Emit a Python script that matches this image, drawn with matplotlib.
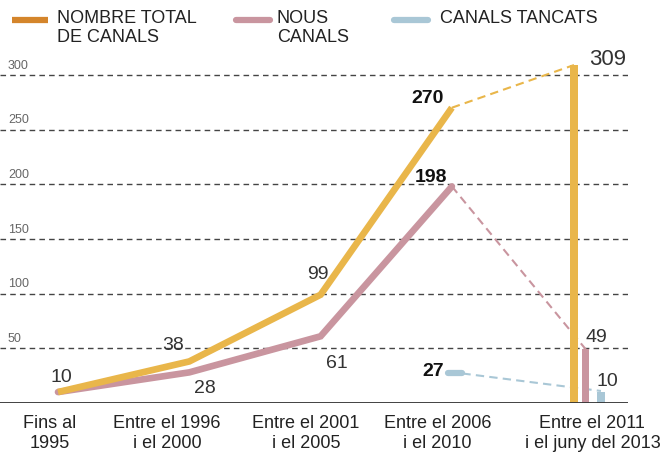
import matplotlib
matplotlib.use("Agg")
import matplotlib.pyplot as plt
from matplotlib.lines import Line2D
import matplotlib.transforms as mtransforms

plt.rcParams['font.family'] = ['Liberation Sans', 'DejaVu Sans']

categories = ["Fins al\n1995", "Entre el 1996\ni el 2000", "Entre el 2001\ni el 2005",
              "Entre el 2006\ni el 2010", "Entre el 2011\ni el juny del 2013"]
total = [10, 38, 99, 270, 309]
nous = [10, 28, 61, 198, 49]
tancats = [None, None, None, 27, 10]
yticks = [50, 100, 150, 200, 250, 300]

C_TOTAL = "#e9b64a"
C_TOTAL_LEG = "#d4852b"
C_NOUS = "#c9959f"
C_TANC = "#a9c7d6"
GRID = "#444444"

W, H = 661, 453
fig = plt.figure(figsize=(W / 100, H / 100), dpi=100)
U = 131.3  # px per category
ax_left, ax_right = 0 / W, 628 / W
ax_bottom = 1 - 403 / H
ax_top = 1 - 53 / H
ax = fig.add_axes([ax_left, ax_bottom, ax_right - ax_left, ax_top - ax_bottom])
ax.set_xlim(-58 / U, (628 - 58) / U)
ax.set_ylim(0, 320)
for s in ax.spines.values():
    s.set_visible(False)
ax.set_xticks([])
ax.set_yticks([])

# gridlines
bt = mtransforms.blended_transform_factory(ax.transAxes, ax.transData)
for t in yticks:
    ax.axhline(t, color=GRID, lw=1.0, ls=(0, (4, 3)), zorder=1)
    ax.text(8 / 628, t + 3, str(t), transform=bt, ha="left", va="bottom", fontsize=9, color="#666666")
ax.axhline(0, color="#333333", lw=1.3, zorder=5)

xs = list(range(len(categories)))
last = xs[-1]
lw = 4.8

# main lines (first four categories)
ax.plot(xs[:4], total[:4], color=C_TOTAL, lw=lw, solid_capstyle="butt", solid_joinstyle="miter", zorder=4)
ax.plot(xs[:4], nous[:4], color=C_NOUS, lw=lw, solid_capstyle="round", solid_joinstyle="miter", zorder=3)

# dashed connectors to last category
off_total, off_nous, off_tanc = -0.07, 0.02, 0.135
ax.plot([xs[3], last + off_total], [total[3], total[4]], color=C_TOTAL, lw=1.5, ls=(0, (4, 2.5)), zorder=3)
ax.plot([xs[3], last + off_nous], [nous[3], nous[4]], color=C_NOUS, lw=1.5, ls=(0, (4, 2.5)), zorder=3)
ax.plot([xs[3] - 0.03, xs[3] + 0.08], [tancats[3], tancats[3]], color=C_TANC, lw=4.5,
        solid_capstyle="round", zorder=3)
ax.plot([xs[3] + 0.08, last + off_tanc], [tancats[3], tancats[4] + 1], color=C_TANC, lw=1.5,
        ls=(0, (4, 2.5)), zorder=3)

# bars at last category
bw = 0.055
ax.bar(last + off_total, total[4], width=bw, color=C_TOTAL, zorder=4)
ax.bar(last + off_nous, nous[4], width=bw, color=C_NOUS, zorder=4)
ax.bar(last + off_tanc, tancats[4], width=bw, color=C_TANC, zorder=4)

# value labels (offsets in pixels: left edge, baseline)
def lab(x, y, dx, dy, text, bold=False, fs=14):
    ax.annotate(text, (x, y), xytext=(dx, dy), textcoords="offset pixels", ha="left", va="baseline",
                fontsize=fs, color="#111111" if bold else "#333333",
                fontweight="bold" if bold else "normal")

lab(xs[0], total[0], -8, 10, str(total[0]))
lab(xs[1], total[1], -27, 11, str(total[1]))
lab(xs[2], total[2], -13, 16, str(total[2]))
lab(xs[3], total[3], -41, 5, str(total[3]), bold=True)
lab(last + off_total, total[4], 15, 0, str(total[4]), fs=16)
lab(xs[1], nous[1], 5, -21, str(nous[1]))
lab(xs[2], nous[2], 5, -32, str(nous[2]))
lab(xs[3], nous[3], -37, 4, str(nous[3]), bold=True)
lab(last + off_nous, nous[4], 0, 7, str(nous[4]))
lab(xs[3], tancats[3], -30, -3, str(tancats[3]), bold=True)
lab(last + off_tanc, tancats[4], -4, 6, str(tancats[4]))

# category labels
label_off = [-0.06, -0.17, -0.11, -0.11, 0.07]
for x, labtxt, o in zip(xs, categories, label_off):
    ax.text(x + o, -11, labtxt, ha="center", va="top", fontsize=13, color="#222222", linespacing=1.22)

# legend
def leg(x0, x1, color, tx, text):
    fig.add_artist(Line2D([x0 / W, x1 / W], [1 - 20 / H, 1 - 20 / H], color=color, lw=4.5,
                          solid_capstyle="round" if color != C_TOTAL_LEG else "butt"))
    fig.text(tx / W, 1 - 10 / H, text, ha="left", va="top", fontsize=13, color="#222222", linespacing=1.15)

leg(12, 48, C_TOTAL_LEG, 57, "NOMBRE TOTAL\nDE CANALS")
leg(236, 270, C_NOUS, 277, "NOUS\nCANALS")
leg(394, 428, C_TANC, 440, "CANALS TANCATS")

fig.savefig("out.png", dpi=100)
